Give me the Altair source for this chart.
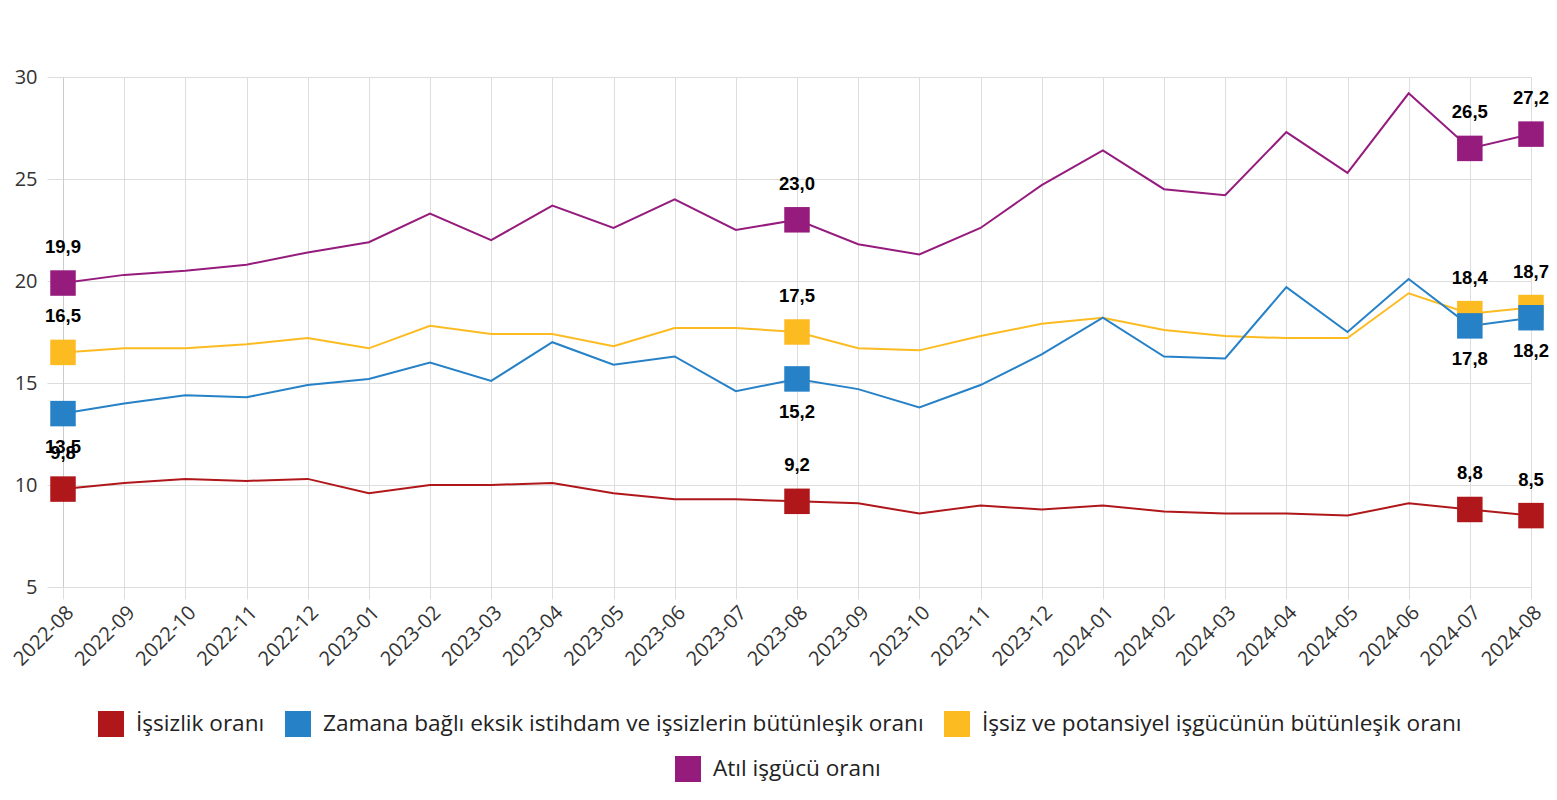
import altair as alt
import pandas as pd

months = ["2022-08", "2022-09", "2022-10", "2022-11", "2022-12",
          "2023-01", "2023-02", "2023-03", "2023-04", "2023-05", "2023-06",
          "2023-07", "2023-08", "2023-09", "2023-10", "2023-11", "2023-12",
          "2024-01", "2024-02", "2024-03", "2024-04", "2024-05", "2024-06",
          "2024-07", "2024-08"]

series_names = [
    "İşsizlik oranı",
    "Zamana bağlı eksik istihdam ve işsizlerin bütünleşik oranı",
    "İşsiz ve potansiyel işgücünün bütünleşik oranı",
    "Atıl işgücü oranı",
]
series_colors = ["#B0171B", "#2681C7", "#FDBB22", "#951B7D"]

issizlik = [9.8, 10.1, 10.3, 10.2, 10.3, 9.6, 10.0, 10.0, 10.1, 9.6, 9.3,
            9.3, 9.2, 9.1, 8.6, 9.0, 8.8, 9.0, 8.7, 8.6, 8.6, 8.5, 9.1, 8.8, 8.5]
zamana = [13.5, 14.0, 14.4, 14.3, 14.9, 15.2, 16.0, 15.1, 17.0, 15.9, 16.3,
          14.6, 15.2, 14.7, 13.8, 14.9, 16.4, 18.2, 16.3, 16.2, 19.7, 17.5, 20.1, 17.8, 18.2]
potansiyel = [16.5, 16.7, 16.7, 16.9, 17.2, 16.7, 17.8, 17.4, 17.4, 16.8, 17.7,
              17.7, 17.5, 16.7, 16.6, 17.3, 17.9, 18.2, 17.6, 17.3, 17.2, 17.2, 19.4, 18.4, 18.7]
atil = [19.9, 20.3, 20.5, 20.8, 21.4, 21.9, 23.3, 22.0, 23.7, 22.6, 24.0,
        22.5, 23.0, 21.8, 21.3, 22.6, 24.7, 26.4, 24.5, 24.2, 27.3, 25.3, 29.2, 26.5, 27.2]

label_months = ["2022-08", "2023-08", "2024-07", "2024-08"]
y_ticks = [5, 10, 15, 20, 25, 30]

# draw order: red, yellow, blue, purple (blue squares drawn over yellow)
draw_order = [0, 2, 1, 3]
values_by_series = [issizlik, zamana, potansiyel, atil]

rows = []
for idx in draw_order:
    for m, v in zip(months, values_by_series[idx]):
        rows.append({
            "month": m,
            "series": series_names[idx],
            "value": v,
            "label": f"{v:.1f}".replace(".", ","),
            "shown": m in label_months,
            "below": idx == 1,
            "group": "main" if idx < 3 else "atil",
        })
df = pd.DataFrame(rows)

FONT = "Open Sans"

x_enc = alt.X(
    "month:O", sort=months,
    scale=alt.Scale(type="point", padding=0),
    axis=alt.Axis(title=None, labelAngle=-45, labelFontSize=20, labelColor="#333",
                  labelFont=FONT, tickColor="#dddddd", tickSize=12, grid=True,
                  gridColor="#dddddd", domain=False, labelPadding=3, labelOverlap=False),
)
y_enc = alt.Y(
    "value:Q",
    scale=alt.Scale(domain=[5, 30], nice=False, zero=False),
    axis=alt.Axis(title=None, values=y_ticks, format="d", tickSize=16, tickColor="#dddddd",
                  labelPadding=10, labelFontSize=20, labelColor="#333", labelFont=FONT,
                  grid=True, gridColor="#dddddd", domainColor="#cccccc"),
)


def legend(x, y):
    return alt.Legend(title=None, orient="none", legendX=x, legendY=y, direction="horizontal",
                      symbolType="square", symbolSize=676, symbolStrokeWidth=0, symbolOpacity=1,
                      labelFontSize=22.6, labelFont=FONT, labelColor="#222", labelLimit=0,
                      columnPadding=20, labelOffset=12, padding=0)


def group(sub_df, names, colors, lx, ly):
    base = alt.Chart(sub_df)
    color = alt.Color("series:N", scale=alt.Scale(domain=names, range=colors),
                      legend=legend(lx, ly))
    line = base.mark_line(strokeWidth=2).encode(x=x_enc, y=y_enc, color=color,
                                               detail="series:N")
    pts = base.transform_filter("datum.shown").mark_square(size=650, opacity=1, filled=True).encode(
        x=x_enc, y=y_enc, color=color)
    return alt.layer(line, pts)


g1 = group(df[df["group"] == "main"], series_names[:3], series_colors[:3], 35, 634)
g2 = group(df[df["group"] == "atil"], series_names[3:], series_colors[3:], 612, 679)

text_base = alt.Chart(df).transform_filter("datum.shown")
txt_above = text_base.transform_filter("!datum.below").mark_text(
    font="Liberation Sans", fontWeight="bold", fontSize=18.5, dy=-36, color="#000"
).encode(x=x_enc, y=y_enc, text="label:N")
txt_below = text_base.transform_filter("datum.below").mark_text(
    font="Liberation Sans", fontWeight="bold", fontSize=18.5, dy=33, color="#000"
).encode(x=x_enc, y=y_enc, text="label:N")

chart = alt.layer(g1, g2, txt_above, txt_below).resolve_scale(color="independent").properties(
    width=1468, height=510,
    autosize=alt.AutoSizeParams(type="none"),
    padding={"left": 55, "top": 69, "right": 18, "bottom": 196},
).configure_view(stroke=None)

chart.save("out.html", embed_options={"renderer": "svg", "actions": False})
